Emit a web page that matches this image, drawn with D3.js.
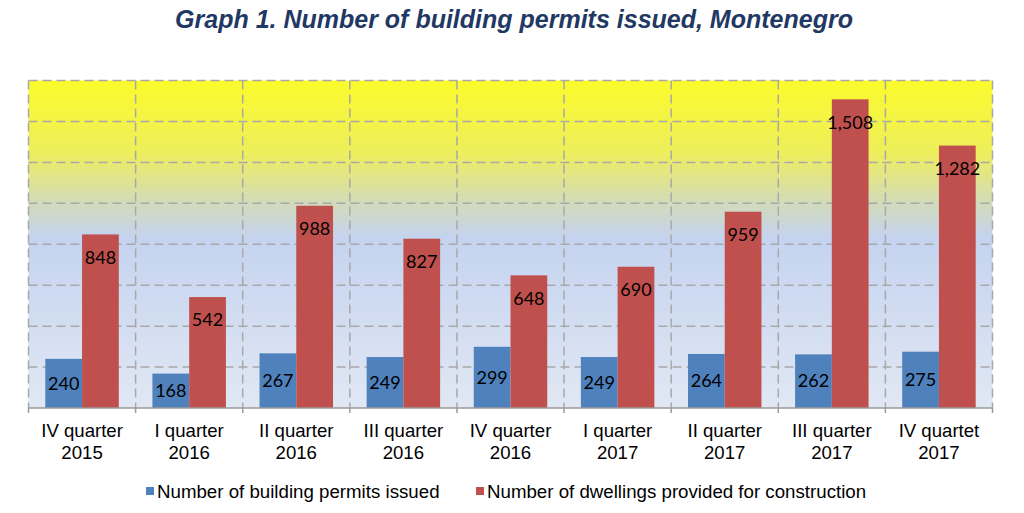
<!DOCTYPE html>
<html><head><meta charset="utf-8">
<script src="https://cdn.jsdelivr.net/npm/d3@7/dist/d3.min.js"></script>
<style>body{margin:0;background:#fff;}svg{display:block;}</style>
</head><body>
<script>
const categories = [["IV quarter","2015"],["I quarter","2016"],["II quarter","2016"],["III quarter","2016"],["IV quarter","2016"],["I quarter","2017"],["II quarter","2017"],["III quarter","2017"],["IV quartet","2017"]];
const permits = [240,168,267,249,299,249,264,262,275];
const dwellings = [848,542,988,827,648,690,959,1508,1282];
const seriesNames = ["Number of building permits issued","Number of dwellings provided for construction"];
const yTicks = [0,200,400,600,800,1000,1200,1400,1600];
const colors = ["#4f81bd","#c0504d"];

const W=1024,H=513;
const m={l:28.5,r:31.5,t:80.5,b:105};
const svg=d3.select("body").append("svg").attr("width",W).attr("height",H);
const x=d3.scaleBand().domain(d3.range(categories.length)).range([m.l,W-m.r]).padding(0);
const y=d3.scaleLinear().domain([0,1600]).range([408,m.t]);

const defs=svg.append("defs");
const g=defs.append("linearGradient").attr("id","bg").attr("x1",0).attr("y1",0).attr("x2",0).attr("y2",1);
[[0,"#fbfb2c"],[0.22,"#eeee5c"],[0.37,"#d3dbb8"],[0.48,"#c4d3ef"],[1,"#e1e8f4"]].forEach(s=>g.append("stop").attr("offset",s[0]).attr("stop-color",s[1]));

svg.append("rect").attr("x",m.l).attr("y",y(1600)).attr("width",x.range()[1]-m.l).attr("height",y(0)-y(1600)).attr("fill","url(#bg)");

const grid=svg.append("g").attr("stroke","#a8a8a8").attr("stroke-width",1.5).attr("stroke-dasharray","9,5");
yTicks.filter(v=>v>0).forEach(v=>grid.append("line").attr("x1",m.l).attr("x2",x.range()[1]).attr("y1",y(v)).attr("y2",y(v)));
d3.range(categories.length+1).forEach(i=>{
  const xx=m.l+i*x.bandwidth();
  grid.append("line").attr("x1",xx).attr("x2",xx).attr("y1",y(1600)).attr("y2",y(0));
});

const bw=x.bandwidth()*0.343, off=x.bandwidth()*0.157;
const bars=svg.append("g");
bars.selectAll("rect.p").data(permits).join("rect").attr("x",(d,i)=>x(i)+off).attr("y",d=>y(d)).attr("width",bw).attr("height",d=>y(0)-y(d)).attr("fill",colors[0]);
bars.selectAll("rect.d").data(dwellings).join("rect").attr("x",(d,i)=>x(i)+off+bw).attr("y",d=>y(d)).attr("width",bw).attr("height",d=>y(0)-y(d)).attr("fill",colors[1]);

// axis
const axis=svg.append("g").attr("stroke","#9a9a9a").attr("stroke-width",1.5);
axis.append("line").attr("x1",m.l).attr("x2",x.range()[1]).attr("y1",y(0)).attr("y2",y(0));
d3.range(categories.length+1).forEach(i=>{
  const xx=m.l+i*x.bandwidth();
  axis.append("line").attr("x1",xx).attr("x2",xx).attr("y1",y(0)).attr("y2",y(0)+5);
});

const fmt=d3.format(",");
const lab=svg.append("g").attr("font-family","Lato, 'Open Sans', sans-serif").attr("font-size",18).attr("fill","#000").attr("text-anchor","middle");
permits.forEach((d,i)=>lab.append("text").attr("x",x(i)+off+bw/2).attr("y",(y(d)+y(0))/2).attr("dy","0.35em").text(fmt(d)));
dwellings.forEach((d,i)=>lab.append("text").attr("x",x(i)+off+bw*1.5).attr("y",y(d)+23).attr("dy","0.35em").text(fmt(d)));

const cl=svg.append("g").attr("font-family","'Liberation Sans', Arial, sans-serif").attr("font-size",18.6).attr("fill","#000").attr("text-anchor","middle");
categories.forEach((c,i)=>{
  const cx=x(i)+x.bandwidth()/2;
  cl.append("text").attr("x",cx).attr("y",437).text(c[0]);
  cl.append("text").attr("x",cx).attr("y",459).text(c[1]);
});

svg.append("text").attr("x",514).attr("y",28).attr("text-anchor","middle").attr("font-family","'Liberation Sans', Arial, sans-serif").attr("font-weight","bold").attr("font-style","italic").attr("font-size",25).attr("fill","#1f3864").text("Graph 1. Number of building permits issued, Montenegro");

const leg=svg.append("g").attr("font-family","'Liberation Sans', Arial, sans-serif").attr("font-size",18.7).attr("fill","#000");
const legX=[146,476];
seriesNames.forEach((s,i)=>{
  leg.append("rect").attr("x",legX[i]).attr("y",487).attr("width",8).attr("height",8).attr("fill",colors[i]);
  leg.append("text").attr("x",legX[i]+11).attr("y",498).text(s);
});
</script>
</body></html>
